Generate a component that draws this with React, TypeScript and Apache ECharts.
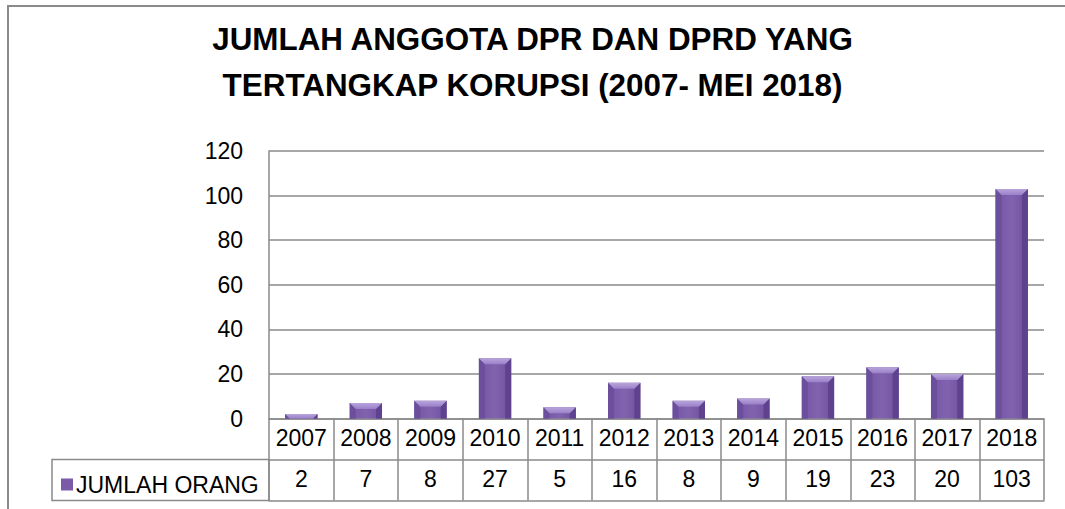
import React, { useEffect, useRef } from "react";
import * as echarts from "echarts";

const categories = ["2007", "2008", "2009", "2010", "2011", "2012", "2013", "2014", "2015", "2016", "2017", "2018"];
const values = [2, 7, 8, 27, 5, 16, 8, 9, 19, 23, 20, 103];
const seriesName = "JUMLAH ORANG";
const yTicks = { min: 0, max: 120, interval: 20 };
const titleText = "JUMLAH ANGGOTA DPR DAN DPRD YANG\nTERTANGKAP KORUPSI (2007- MEI 2018)";

const FONT = "'Liberation Sans', Arial, sans-serif";
const GRAY = "#8a8a8a";
const FS = 23;

export default function App() {
  const ref = useRef<HTMLDivElement>(null);
  useEffect(() => {
    if (!ref.current) return;
    const chart = echarts.init(ref.current, undefined, { renderer: "svg" });
    const renderBar = (params: any, api: any) => {
      const idx = api.value(0);
      const v = api.value(1);
      const top = api.coord([idx, v]);
      const bot = api.coord([idx, 0]);
      const band = api.size([1, 0])[0];
      const w = band * 0.5;
      const x0 = top[0] - w / 2;
      const x1 = top[0] + w / 2;
      const y0 = top[1];
      const y1 = bot[1];
      const h = y1 - y0;
      const d = Math.min(6, h);
      return {
        type: "group",
        children: [
          {
            type: "rect",
            shape: { x: x0, y: y0, width: w, height: h },
            style: {
              fill: new echarts.graphic.LinearGradient(0, 0, 1, 0, [
                { offset: 0, color: "#62468f" },
                { offset: 0.2, color: "#7a5aa9" },
                { offset: 0.5, color: "#8063ae" },
                { offset: 0.8, color: "#7657a5" },
                { offset: 1, color: "#5a3f86" },
              ]),
            },
          },
          {
            type: "polygon",
            shape: { points: [[x0, y0], [x0 + d, y0 + d], [x0 + d, y1], [x0, y1]] },
            style: { fill: "#6b4e9c" },
          },
          {
            type: "polygon",
            shape: { points: [[x1, y0], [x1 - d, y0 + d], [x1 - d, y1], [x1, y1]] },
            style: { fill: "#5e4290" },
          },
          {
            type: "polygon",
            shape: { points: [[x0, y0], [x1, y0], [x1 - d, y0 + d], [x0 + d, y0 + d]] },
            style: {
              fill: new echarts.graphic.LinearGradient(0, 0, 0, 1, [
                { offset: 0, color: "#b9a5dc" },
                { offset: 1, color: "#9a80c8" },
              ]),
            },
          },
        ],
      };
    };
    chart.setOption({
      animation: false,
      backgroundColor: "#ffffff",
      title: {
        text: titleText,
        left: "center",
        top: 11,
        textStyle: {
          fontFamily: FONT,
          fontWeight: "bold",
          fontSize: 31.4,
          lineHeight: 46,
          color: "#000",
        },
      },
      legend: {
        data: [seriesName],
        left: 56,
        top: 468,
        itemWidth: 12,
        itemHeight: 12,
        itemGap: 6,
        icon: "rect",
        textStyle: { fontFamily: FONT, fontSize: FS, color: "#000", padding: [0, 0, 0, -2] },
      },
      grid: { left: 269, right: 21, top: 151, bottom: 90.5, containLabel: false },
      xAxis: [
        {
          type: "category",
          data: categories,
          position: "bottom",
          axisLine: { show: true, lineStyle: { color: GRAY, width: 1.5 } },
          axisTick: { show: true, interval: 0, length: 82, lineStyle: { color: GRAY, width: 1.5 } },
          axisLabel: { interval: 0, margin: 8, fontFamily: FONT, fontSize: FS, color: "#000" },
          splitLine: { show: false },
        },
        {
          type: "category",
          data: categories,
          position: "bottom",
          offset: 41,
          axisLine: { show: true, lineStyle: { color: GRAY, width: 1.5 } },
          axisTick: { show: false },
          axisLabel: {
            interval: 0,
            margin: 8,
            fontFamily: FONT,
            fontSize: FS,
            color: "#000",
            formatter: (_v: string, i: number) => String(values[i]),
          },
        },
        {
          type: "category",
          data: categories,
          position: "bottom",
          offset: 82,
          axisLine: { show: true, lineStyle: { color: GRAY, width: 1.5 } },
          axisTick: { show: false },
          axisLabel: { show: false },
        },
      ],
      yAxis: {
        type: "value",
        min: yTicks.min,
        max: yTicks.max,
        interval: yTicks.interval,
        axisLine: { show: true, lineStyle: { color: GRAY, width: 1.5 } },
        axisTick: { show: false },
        axisLabel: { margin: 26, fontFamily: FONT, fontSize: FS, color: "#000" },
        splitLine: { show: true, lineStyle: { color: GRAY, width: 1.5 } },
      },
      graphic: [
        {
          type: "rect",
          shape: { x: 8, y: 6, width: 1100, height: 600 },
          style: { fill: "none", stroke: GRAY, lineWidth: 2 },
          silent: true,
        },
        {
          type: "rect",
          shape: { x: 52, y: 459.5, width: 217, height: 41 },
          style: { fill: "none", stroke: GRAY, lineWidth: 1.5 },
          silent: true,
        },
      ],
      series: [
        {
          name: seriesName,
          type: "custom",
          xAxisIndex: 0,
          itemStyle: { color: "#7b5ba9" },
          renderItem: renderBar,
          encode: { x: 0, y: 1 },
          data: values.map((v, i) => [i, v]),
        },
      ],
    });
    return () => chart.dispose();
  }, []);
  return (
    <div
      ref={ref}
      style={{ position: "fixed", left: 0, top: 0, width: 1065, height: 509, background: "#fff" }}
    />
  );
}
